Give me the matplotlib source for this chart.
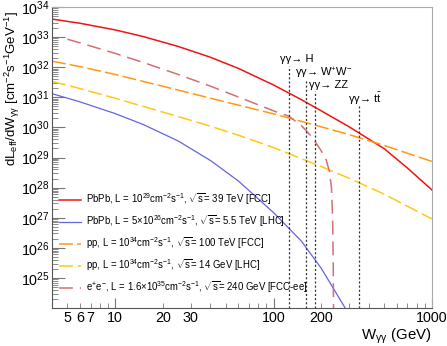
import numpy as np
import matplotlib
matplotlib.use("Agg")
import matplotlib.pyplot as plt

plt.rcParams["font.family"] = ["Liberation Sans", "DejaVu Sans"]
plt.rcParams["mathtext.fontset"] = "custom"
plt.rcParams["mathtext.rm"] = "Liberation Sans"
plt.rcParams["mathtext.it"] = "Liberation Sans:italic"
plt.rcParams["mathtext.bf"] = "Liberation Sans:bold"
plt.rcParams["mathtext.sf"] = "Liberation Sans"
plt.rcParams["lines.scale_dashes"] = False

# W_gg in GeV, luminosities stored as log10(dL/dW)
w_main = [4, 6, 10, 15, 25, 40, 60, 100, 150, 200, 300, 500, 700, 1000]
pbpb_fcc = [33.60, 33.46, 33.24, 33.02, 32.69, 32.33, 31.96, 31.41, 30.92, 30.55, 30.02, 29.29, 28.65, 27.92]
pp_fcc = [32.20, 32.02, 31.76, 31.53, 31.24, 30.97, 30.74, 30.45, 30.20, 30.02, 29.76, 29.40, 29.14, 28.87]
pp_lhc = [31.53, 31.29, 30.97, 30.70, 30.36, 30.04, 29.74, 29.33, 28.96, 28.70, 28.31, 27.78, 27.38, 26.96]

w_pbpb_lhc = [4, 6, 10, 15, 25, 40, 60, 100, 150, 200, 300]
pbpb_lhc = [31.12, 30.85, 30.46, 30.10, 29.55, 28.90, 28.22, 27.17, 26.22, 25.32, 23.78]

w_ee = [5, 6, 10, 15, 25, 40, 60, 100, 125, 150, 175, 200, 215, 225, 232, 236, 238, 239.5]
ee_fccee = [32.93, 32.81, 32.46, 32.16, 31.76, 31.37, 31.01, 30.55, 30.37, 30.06, 29.68, 29.22, 28.92,
            28.55, 28.0, 27.0, 25.5, 23.5]

labels = [
    r"PbPb, L = 10$^{29}$cm$^{-2}$s$^{-1}$, $\sqrt{\mathrm{s}}$= 39 TeV [FCC]",
    r"PbPb, L = 5×10$^{26}$cm$^{-2}$s$^{-1}$, $\sqrt{\mathrm{s}}$= 5.5 TeV [LHC]",
    r"pp, L = 10$^{34}$cm$^{-2}$s$^{-1}$, $\sqrt{\mathrm{s}}$= 100 TeV [FCC]",
    r"pp, L = 10$^{34}$cm$^{-2}$s$^{-1}$, $\sqrt{\mathrm{s}}$= 14 GeV [LHC]",
    r"e$^{+}$e$^{-}$, L = 1.6×10$^{35}$cm$^{-2}$s$^{-1}$, $\sqrt{\mathrm{s}}$= 240 GeV [FCC-ee]",
]

proc_mass = [125, 160, 182, 346]
proc_names = ["γγ→ H", r"γγ→ W$^{+}$W$^{-}$", "γγ→ ZZ", r"γγ→ t$\bar{\mathrm{t}}$"]

fig = plt.figure(figsize=(4.47, 3.46), dpi=100)
ax = fig.add_axes([52 / 447, 1 - 308 / 346, 380 / 447, 301 / 346])

l1, = ax.plot(w_main, 10 ** np.array(pbpb_fcc), color="#f01414", lw=1.1)
l2, = ax.plot(w_pbpb_lhc, 10 ** np.array(pbpb_lhc), color="#6464e6", lw=0.9)
l3, = ax.plot(w_main, 10 ** np.array(pp_fcc), color="#ff9914", lw=1.1, dashes=(10, 3))
l4, = ax.plot(w_main, 10 ** np.array(pp_lhc), color="#ffc814", lw=1.1, dashes=(10, 3.5))
l5, = ax.plot(w_ee, 10 ** np.array(ee_fccee), color="#d47070", lw=1.1, dashes=(10, 5))

# process thresholds
line_tops = [10 ** 32.04, 10 ** 31.57, 10 ** 31.21, 10 ** 30.74]
text_pos = [(110, 10 ** 32.27), (136, 10 ** 31.81), (167, 10 ** 31.41), (295, 10 ** 30.94)]
for m, top, (tx, ty), name in zip(proc_mass, line_tops, text_pos, proc_names):
    ax.plot([m, m], [1e24, top], color="#333333", lw=0.9, ls=(0, (1.5, 1.5)))
    ax.text(tx, ty, name, fontsize=8, va="center", ha="left")

ax.set_xscale("log")
ax.set_yscale("log")
ax.set_xlim(4, 1000)
ax.set_ylim(1e24, 1e34)

ax.set_xticks([10, 100, 1000], labels=["10", "100", "1000"])
minor_x = [4, 5, 6, 7, 8, 9, 20, 30, 40, 50, 60, 70, 80, 90, 200, 300, 400, 500, 600, 700, 800, 900]
minor_lab = {5: "5", 6: "6", 7: "7", 20: "20", 30: "30", 200: "200"}
ax.set_xticks(minor_x, labels=[minor_lab.get(v, "") for v in minor_x], minor=True)

ax.set_yticks([10.0 ** k for k in range(25, 35)],
              labels=[r"$10^{%d}$" % k for k in range(25, 35)])
ax.set_yticks([m * 10.0 ** k for k in range(24, 34) for m in range(2, 10)], minor=True)
ax.yaxis.set_minor_formatter(matplotlib.ticker.NullFormatter())

ax.tick_params(which="both", direction="in", top=False, right=False, color="#777777",
               labelsize=10.3)
ax.tick_params(axis="y", which="major", length=9, pad=1.5)
ax.tick_params(axis="y", which="minor", length=4.5)
ax.tick_params(axis="x", which="major", length=7, pad=2)
ax.tick_params(axis="x", which="minor", length=3.5, pad=2)

for s in ["left", "bottom"]:
    ax.spines[s].set_color("#555555")
for s in ["top", "right"]:
    ax.spines[s].set_color("#aaaaaa")

ax.set_ylabel(r"dL$_{\mathrm{eff}}$/dW$_{\mathrm{γγ}}$ [cm$^{-2}$s$^{-1}$GeV$^{-1}$]",
              fontsize=9.5, loc="top")
ax.yaxis.set_label_coords(-0.078, 0.985)
ax.set_xlabel(r"W$_{\mathrm{γγ}}$ (GeV)", fontsize=10.8, loc="right")
ax.xaxis.set_label_coords(1.0, -0.062)

ax.legend([l1, l2, l3, l4, l5], labels, loc="lower left", bbox_to_anchor=(0.0, 0.02),
          frameon=False, fontsize=6.9, handlelength=2.35, handletextpad=0.5,
          labelspacing=0.65, borderaxespad=0.3)

fig.savefig("out.png", dpi=100)
